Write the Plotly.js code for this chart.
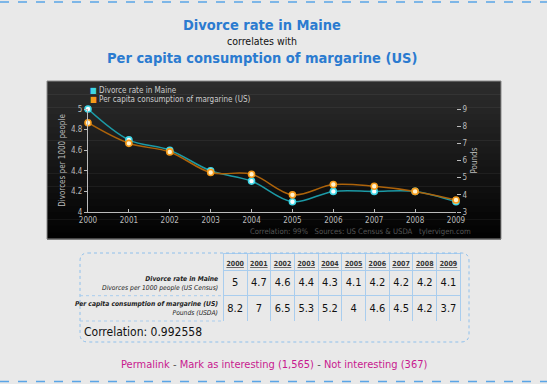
<!DOCTYPE html>
<html><head><meta charset="utf-8">
<script src="https://cdn.plot.ly/plotly-3.0.1.min.js"></script>
<style>html,body{margin:0;padding:0;background:#e9e9e9;overflow:hidden}#chart{width:547px;height:384px}</style>
</head><body><div id="chart"></div>
<script>
// ---- data ----
const years = [2000, 2001, 2002, 2003, 2004, 2005, 2006, 2007, 2008, 2009];
const divorceRate = [5, 4.7, 4.6, 4.4, 4.3, 4.1, 4.2, 4.2, 4.2, 4.1];
const margarine = [8.2, 7, 6.5, 5.3, 5.2, 4, 4.6, 4.5, 4.2, 3.7];
const seriesNames = ['Divorce rate in Maine', 'Per capita consumption of margarine (US)'];
const rowUnits = ['Divorces per 1000 people (US Census)', 'Pounds (USDA)'];
const axisTitles = ['Divorces per 1000 people', 'Pounds'];
const correlation = '0.992558';
const noteParts = ['Correlation: 99%', 'Sources: US Census &amp; USDA', 'tylervigen.com'];
const interestingCount = '1,565';
const notInterestingCount = '367';

// ---- helpers (pixel -> paper) ----
const W = 547, H = 384;
const px = v => v / W;
const py = v => 1 - v / H;
const F = 'DejaVu Sans Condensed, DejaVu Sans, sans-serif';
const BLUE = '#2b7bd0', TCOL = '#a9cdee', AX = '#bbbbbb';

// chart box gradient bands
const shapes = [];
const bx0 = 47, bx1 = 501, by0 = 81, by1 = 239, N = 24;
for (let i = 0; i < N; i++) {
  const c = Math.round(44 - 42 * i / (N - 1));
  shapes.push({type: 'rect', xref: 'paper', yref: 'paper', layer: 'below',
    x0: px(bx0), x1: px(bx1), y0: py(by0 + (by1 - by0) * i / N), y1: py(by0 + (by1 - by0) * (i + 1) / N + 0.5),
    fillcolor: `rgb(${c},${c},${c})`, line: {width: 0}});
}
shapes.push({type: 'rect', xref: 'paper', yref: 'paper', layer: 'below',
  x0: px(bx0), x1: px(bx1), y0: py(by0), y1: py(by1), line: {color: '#8a8a8a', width: 1}});
// dashed page borders
shapes.push({type: 'line', xref: 'paper', yref: 'paper', x0: 0, x1: 1, y0: py(2), y1: py(2), line: {color: '#5aa5e6', width: 1.5, dash: 'dash'}});
shapes.push({type: 'line', xref: 'paper', yref: 'paper', x0: 0, x1: 1, y0: py(381.5), y1: py(381.5), line: {color: '#5aa5e6', width: 1.5, dash: 'dash'}});
// rounded table frame
const r = 8, tx0 = 80, tx1 = 469, ty0 = 253, ty1 = 342;
shapes.push({type: 'path', xref: 'paper', yref: 'paper', line: {color: '#8fc0ec', width: 1, dash: 'dot'},
  path: `M${px(tx0 + r)},${py(ty0)} L${px(tx1 - r)},${py(ty0)} Q${px(tx1)},${py(ty0)} ${px(tx1)},${py(ty0 + r)} L${px(tx1)},${py(ty1 - r)} Q${px(tx1)},${py(ty1)} ${px(tx1 - r)},${py(ty1)} L${px(tx0 + r)},${py(ty1)} Q${px(tx0)},${py(ty1)} ${px(tx0)},${py(ty1 - r)} L${px(tx0)},${py(ty0 + r)} Q${px(tx0)},${py(ty0)} ${px(tx0 + r)},${py(ty0)} Z`});
// label-column row separators
[295.7, 321].forEach(y => shapes.push({type: 'line', xref: 'paper', yref: 'paper',
  x0: px(tx0), x1: px(223.3), y0: py(y), y1: py(y), line: {color: TCOL, width: 1, dash: 'dot'}}));

const traces = [
  {type: 'scatter', mode: 'lines+markers', x: years, y: divorceRate, yaxis: 'y', name: seriesNames[0],
   line: {color: '#1c9aa6', width: 1.5, shape: 'spline', smoothing: 1},
   marker: {size: 6, color: '#ffffff', line: {color: '#3fd6e6', width: 1.6}}, cliponaxis: false, showlegend: false},
  {type: 'scatter', mode: 'lines+markers', x: years, y: margarine, yaxis: 'y2', name: seriesNames[1],
   line: {color: '#ad630a', width: 1.5, shape: 'spline', smoothing: 1},
   marker: {size: 6, color: '#fff3d0', line: {color: '#f59a1a', width: 1.6}}, cliponaxis: false, showlegend: false},
  {type: 'table', domain: {x: [px(223.3), px(460.7)], y: [py(321), py(253)]},
   columnwidth: years.map(() => 1),
   header: {values: years.map(y => String(y)), height: 17, align: 'center',
     fill: {color: 'rgba(0,0,0,0)'}, line: {color: TCOL, width: 1},
     font: {family: F, size: 7, color: '#333', weight: 'bold', lineposition: 'under'}},
   cells: {values: years.map((y, i) => [divorceRate[i], margarine[i]]), height: 25.5, align: 'center',
     fill: {color: 'rgba(0,0,0,0)'}, line: {color: TCOL, width: 1}, font: {family: F, size: 11, color: '#111'}}}
];

const ann = [];
const A = (o) => ann.push(Object.assign({xref: 'paper', yref: 'paper', showarrow: false, xanchor: 'center', yanchor: 'middle'}, o));
A({x: px(262), y: py(24.5), text: '<b>' + seriesNames[0] + '</b>', font: {family: F, size: 14.5, color: BLUE}});
A({x: px(262), y: py(41.5), text: 'correlates with', font: {family: F, size: 10.5, color: '#111'}});
A({x: px(262), y: py(58), text: '<b>' + seriesNames[1] + '</b>', font: {family: F, size: 14.5, color: BLUE}});
// legend
A({x: px(88), y: py(90), xanchor: 'left', text: '<span style="color:#3fd6e6">■</span> ' + seriesNames[0], font: {family: F, size: 8, color: '#cccccc'}});
A({x: px(88), y: py(99), xanchor: 'left', text: '<span style="color:#f59a1a">■</span> ' + seriesNames[1], font: {family: F, size: 8, color: '#cccccc'}});
// chart note
A({x: px(473), y: py(231), xanchor: 'right', text: noteParts.join('&nbsp;&nbsp;&nbsp;'), font: {family: F, size: 7.7, color: '#555555'}});
// row labels
A({x: px(220), y: py(283), xanchor: 'right', align: 'right', text: '<b><i>' + seriesNames[0] + '</i></b><br><i>' + rowUnits[0] + '</i>', font: {family: F, size: 6.7, color: '#222'}});
A({x: px(220), y: py(308.5), xanchor: 'right', align: 'right', text: '<b><i>' + seriesNames[1] + '</i></b><br><i>' + rowUnits[1] + '</i>', font: {family: F, size: 6.7, color: '#222'}});
A({x: px(82), y: py(332), xanchor: 'left', text: 'Correlation: ' + correlation, font: {family: F, size: 12, color: '#111'}});
// footer
A({x: px(274), y: py(364), text: '<span style="color:#c8198f">Permalink</span> <span style="color:#555">-</span> <span style="color:#c8198f">Mark as interesting (' + interestingCount + ')</span> <span style="color:#555">-</span> <span style="color:#c8198f">Not interesting (' + notInterestingCount + ')</span>', font: {family: F, size: 11, color: '#c8198f'}});

const layout = {
  width: W, height: H, margin: {l: 0, r: 0, t: 0, b: 0},
  paper_bgcolor: '#e9e9e9', plot_bgcolor: 'rgba(0,0,0,0)', showlegend: false,
  xaxis: {domain: [px(88), px(456)], range: [2000, 2009], tickvals: years, ticks: 'inside', ticklen: 3,
    tickcolor: AX, showline: true, linecolor: AX, linewidth: 1, showgrid: false, zeroline: false,
    tickfont: {family: F, size: 8, color: AX}, fixedrange: true},
  yaxis: {domain: [py(212), py(109)], range: [4, 5], dtick: 0.2, ticks: 'outside', ticklen: 3,
    tickcolor: AX, showline: true, linecolor: AX, linewidth: 1, showgrid: false, zeroline: false,
    tickfont: {family: F, size: 8, color: AX}, fixedrange: true,
    title: {text: axisTitles[0], font: {family: F, size: 8, color: AX}, standoff: 4}},
  yaxis2: {overlaying: 'y', side: 'right', range: [3, 9], dtick: 1, ticks: 'outside', ticklen: 4,
    tickcolor: AX, showline: false, showgrid: false, zeroline: false,
    tickfont: {family: F, size: 8, color: AX}, fixedrange: true,
    title: {text: axisTitles[1], font: {family: F, size: 8, color: AX}, standoff: 4}},
  shapes: shapes, annotations: ann
};
Plotly.newPlot('chart', traces, layout, {staticPlot: true, displayModeBar: false});
</script></body></html>
